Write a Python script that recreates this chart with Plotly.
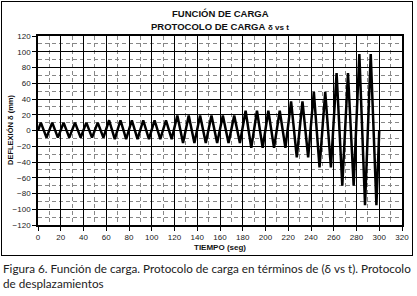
import plotly.graph_objects as go

# Time (s) of each turning point of the displacement protocol
tiempo = [0, 2.5, 7.5, 12.5, 17.5, 22.5, 27.5, 32.5, 37.5, 42.5, 47.5, 52.5, 57.5,
          62.5, 67.5, 72.5, 77.5, 82.5, 87.5, 92.5, 97.5, 102.5, 107.5, 112.5, 117.5,
          122.5, 127.5, 132.5, 137.5, 142.5, 147.5, 152.5, 157.5, 162.5, 167.5, 172.5, 177.5,
          182.5, 187.5, 192.5, 197.5, 202.5, 207.5, 212.5, 217.5,
          222.5, 227.5, 232.5, 237.5,
          242.5, 247.5, 252.5, 257.5,
          262.5, 267.5, 272.5, 277.5,
          282.5, 287.5, 292.5, 297.5, 300]

# Deflection (mm) at each turning point
deflexion = [0, 10, -9, 10, -9, 10, -9, 10, -9, 10, -9, 10, -9,
             13, -11, 13, -11, 13, -11, 13, -11, 13, -11, 13, -11,
             19, -16, 19, -16, 19, -16, 19, -16, 19, -16, 19, -16,
             25, -22, 25, -22, 25, -22, 25, -22,
             37, -34, 37, -34,
             49, -47, 49, -47,
             73, -70, 73, -70,
             97, -95, 97, -95, 0]

x_ticks = list(range(0, 321, 20))
y_ticks = list(range(-120, 121, 20))

W, H = 417, 296
# figure margins = outer chart frame
ml, mr, mt, mb = 2, 5, 2, 41
pw, ph = W - ml - mr, H - mt - mb
# inner plot box in pixels
pl, pr, pt, pb = 38, 402, 36, 225

def px_to_paper_x(px):
    return (px - ml) / pw

def px_to_paper_y(py):
    return (H - mb - py) / ph

fig = go.Figure()
fig.add_trace(go.Scatter(x=tiempo, y=deflexion, mode="lines",
                         line=dict(color="black", width=2.5), showlegend=False,
                         hoverinfo="skip"))
# empty trace to hold the frame axes
fig.add_trace(go.Scatter(x=[], y=[], xaxis="x2", yaxis="y2", showlegend=False,
                         hoverinfo="skip"))

axis_common = dict(
    showline=True, linecolor="black", linewidth=1.5, mirror=True,
    showgrid=True, gridcolor="black", gridwidth=1.3,
    ticks="outside", ticklen=4, tickcolor="black", tickwidth=1,
    tickfont=dict(family="Liberation Sans, Arial", size=8, color="#222"),
    zeroline=False, automargin=False,
    minor=dict(showgrid=True, gridcolor="#888", gridwidth=1, griddash="4px,3px", dtick=10),
)

frame_axis = dict(domain=[0, 1], range=[0, 1], showline=True, mirror=True,
                  linecolor="black", linewidth=1.2, showgrid=False, zeroline=False,
                  showticklabels=False, ticks="", fixedrange=True, automargin=False)

font_main = "Liberation Sans, Arial"

def label(text, px, py, size, angle=0, family=font_main, **kw):
    return dict(text=text, xref="paper", yref="paper", textangle=angle,
                x=px_to_paper_x(px), y=px_to_paper_y(py), showarrow=False,
                xanchor=kw.get("xanchor", "center"), yanchor=kw.get("yanchor", "middle"),
                align=kw.get("align", "center"),
                font=dict(family=family, size=size, color=kw.get("color", "#111")))

fig.update_layout(
    width=W, height=H,
    margin=dict(l=ml, r=mr, t=mt, b=mb),
    paper_bgcolor="white", plot_bgcolor="rgba(0,0,0,0)",
    xaxis=dict(range=[0, 320], tickvals=x_ticks,
               domain=[px_to_paper_x(pl), px_to_paper_x(pr)], anchor="y", **axis_common),
    yaxis=dict(range=[-120, 120], tickvals=y_ticks,
               domain=[px_to_paper_y(pb), px_to_paper_y(pt)], anchor="x", **axis_common),
    xaxis2=dict(anchor="y2", **frame_axis),
    yaxis2=dict(anchor="x2", **frame_axis),
    annotations=[
        label("<b>FUNCIÓN DE CARGA</b>", 220, 14, 9.5),
        label("<b>PROTOCOLO DE CARGA</b> <span style='font-size:8px'><b>δ vs t</b></span>", 220, 26.5, 9.5),
        label("<b>TIEMPO (seg)</b>", 220, 247, 8),
        label("<b>DEFLEXIÓN δ (mm)</b>", 10, 130, 7.5, angle=-90),
        label("Figura 6. Función de carga. Protocolo de carga en términos de (δ vs t). Protocolo<br>de desplazamientos",
              1, 259, 11.7, family="Lato, Noto Sans", xanchor="left", yanchor="top",
              align="left", color="#222"),
    ],
)

fig.write_html("out.html", config={"displayModeBar": False},
               post_script="document.body.style.margin='0';document.body.style.padding='0';")
